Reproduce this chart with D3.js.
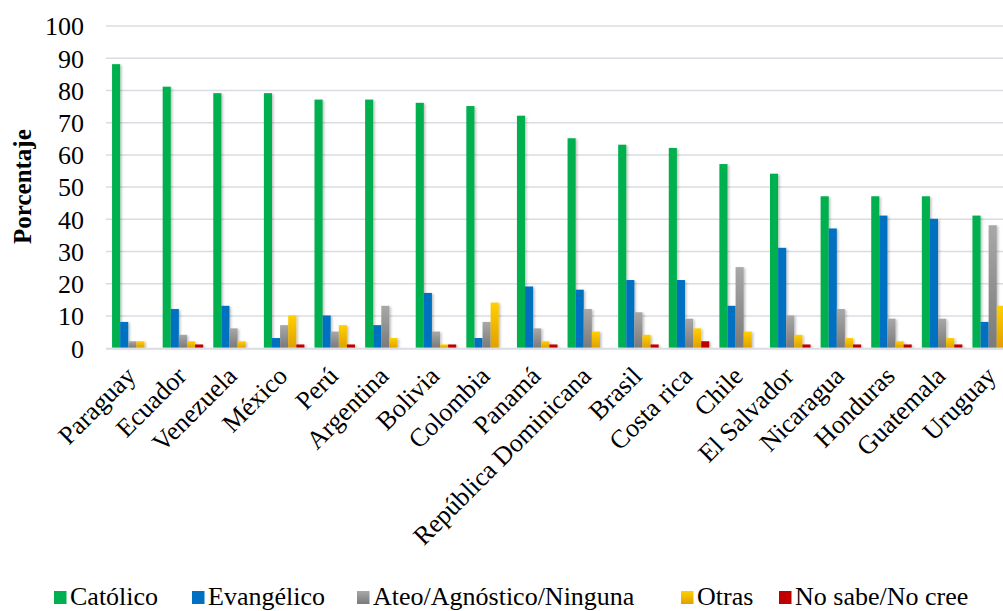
<!DOCTYPE html>
<html>
<head>
<meta charset="utf-8">
<script src="https://cdn.jsdelivr.net/npm/d3@7"></script>
<style>
  body { margin: 0; background: #fff; }
  svg text { font-family: "Liberation Serif", "Times New Roman", Times, "DejaVu Serif", serif; }
</style>
</head>
<body>
<div id="chart"></div>
<script>
var paises = ['Paraguay', 'Ecuador', 'Venezuela', 'México', 'Perú', 'Argentina', 'Bolivia', 'Colombia', 'Panamá',
	'República Dominicana', 'Brasil', 'Costa rica', 'Chile', 'El Salvador', 'Nicaragua', 'Honduras', 'Guatemala', 'Uruguay'];

var catolico   = [88, 81, 79, 79, 77, 77, 76, 75, 72, 65, 63, 62, 57, 54, 47, 47, 47, 41];
var evangelico = [8, 12, 13, 3, 10, 7, 17, 3, 19, 18, 21, 21, 13, 31, 37, 41, 40, 8];
var ateo       = [2, 4, 6, 7, 5, 13, 5, 8, 6, 12, 11, 9, 25, 10, 12, 9, 9, 38];
var otras      = [2, 2, 2, 10, 7, 3, 1, 14, 2, 5, 4, 6, 5, 4, 3, 2, 3, 13];
var noSabe     = [0, 1, 0, 1, 1, 0, 1, 0, 1, 0, 1, 2, 0, 1, 1, 1, 1, 1];

var yTicks = [0, 10, 20, 30, 40, 50, 60, 70, 80, 90, 100];

var series = [
	{ name: 'Católico', values: catolico, fill: '#00b050' },
	{ name: 'Evangélico', values: evangelico, fill: '#0070c0' },
	{ name: 'Ateo/Agnóstico/Ninguna', values: ateo, fill: 'url(#gradGris)' },
	{ name: 'Otras', values: otras, fill: 'url(#gradAmarillo)' },
	{ name: 'No sabe/No cree', values: noSabe, fill: '#c00000' }
];

var width = 1003, height = 611;
var fuente = '"Liberation Serif", "Times New Roman", Times, "DejaVu Serif", serif';

var svg = d3.select('#chart').append('svg').attr('width', width).attr('height', height);

var defs = svg.append('defs');

var g1 = defs.append('linearGradient').attr('id', 'gradGris').attr('x1', 0).attr('y1', 0).attr('x2', 0).attr('y2', 1);
g1.append('stop').attr('offset', '0%').attr('stop-color', '#a8a8a8');
g1.append('stop').attr('offset', '100%').attr('stop-color', '#7a7a7a');

var g2 = defs.append('linearGradient').attr('id', 'gradAmarillo').attr('x1', 0).attr('y1', 0).attr('x2', 0).attr('y2', 1);
g2.append('stop').attr('offset', '0%').attr('stop-color', '#ffd000');
g2.append('stop').attr('offset', '100%').attr('stop-color', '#e0a000');

var shadow = defs.append('filter').attr('id', 'sombra').attr('x', '-50%').attr('y', '-10%').attr('width', '200%').attr('height', '120%');
shadow.append('feDropShadow').attr('dx', 1.5).attr('dy', 1).attr('stdDeviation', 1.2)
	.attr('flood-color', '#000').attr('flood-opacity', 0.25);

var x0 = d3.scaleBand()
	.domain(paises)
	.range([107, 1018])
	.paddingInner(0.2)
	.paddingOuter(0.1);

var x1 = d3.scaleBand()
	.domain(series.map(function(s) { return s.name; }))
	.range([0, x0.bandwidth()]);

var yScale = d3.scaleLinear()
	.domain([0, 100])
	.range([347.7, 25.5]);

// lineas de cuadricula
svg.append('g')
	.selectAll('line')
	.data(yTicks.slice(1))
	.enter().append('line')
	.attr('x1', 106).attr('x2', width)
	.attr('y1', function(d) { return yScale(d) + 0.5; })
	.attr('y2', function(d) { return yScale(d) + 0.5; })
	.attr('stroke', '#d9dce2')
	.attr('stroke-width', 1.5);

// eje y
var yAxis = d3.axisLeft(yScale).tickValues(yTicks).tickSize(0).tickPadding(0);
var yAxisG = svg.append('g')
	.attr('transform', 'translate(84,1)')
	.call(yAxis)
	.attr('font-family', fuente);
yAxisG.select('.domain').remove();
yAxisG.selectAll('text')
	.attr('font-size', 26)
	.attr('fill', '#000');

svg.append('text')
	.attr('transform', 'translate(31,' + yScale(50) + ') rotate(-90)')
	.attr('text-anchor', 'middle')
	.attr('font-size', 25)
	.attr('font-weight', 'bold')
	.text('Porcentaje');

// barras
var grupos = svg.append('g').selectAll('g')
	.data(series)
	.enter().append('g')
	.attr('fill', function(s) { return s.fill; })
	.attr('filter', 'url(#sombra)');

grupos.selectAll('rect')
	.data(function(s) {
		return s.values.map(function(v, i) { return { pais: paises[i], valor: v, serie: s.name }; });
	})
	.enter().append('rect')
	.attr('x', function(d) { return x0(d.pais) + x1(d.serie); })
	.attr('width', x1.bandwidth())
	.attr('y', function(d) { return yScale(d.valor); })
	.attr('height', function(d) { return yScale(0) - yScale(d.valor); });

// eje x
svg.append('line')
	.attr('x1', 106).attr('x2', width)
	.attr('y1', yScale(0) + 1).attr('y2', yScale(0) + 1)
	.attr('stroke', '#d9dce2')
	.attr('stroke-width', 2);

var xAxis = d3.axisBottom(x0).tickSize(0).tickPadding(0);
var xAxisG = svg.append('g')
	.attr('transform', 'translate(-8,' + (yScale(0) + 17) + ')')
	.call(xAxis)
	.attr('font-family', fuente);
xAxisG.select('.domain').remove();
xAxisG.selectAll('text')
	.attr('font-size', 26)
	.attr('fill', '#000')
	.attr('text-anchor', 'end')
	.attr('dy', '0.7em')
	.attr('transform', 'rotate(-45)');

// leyenda
var leyendaX = [54, 192, 357, 681, 779];
var leyenda = svg.append('g').selectAll('g')
	.data(series)
	.enter().append('g')
	.attr('transform', function(d, i) { return 'translate(' + leyendaX[i] + ',591)'; });

leyenda.append('rect')
	.attr('width', 12.5).attr('height', 13)
	.attr('y', 0)
	.attr('fill', function(d) { return d.fill; });

leyenda.append('text')
	.attr('x', 16)
	.attr('y', 14)
	.attr('font-size', 26)
	.text(function(d) { return d.name; });
</script>
</body>
</html>
